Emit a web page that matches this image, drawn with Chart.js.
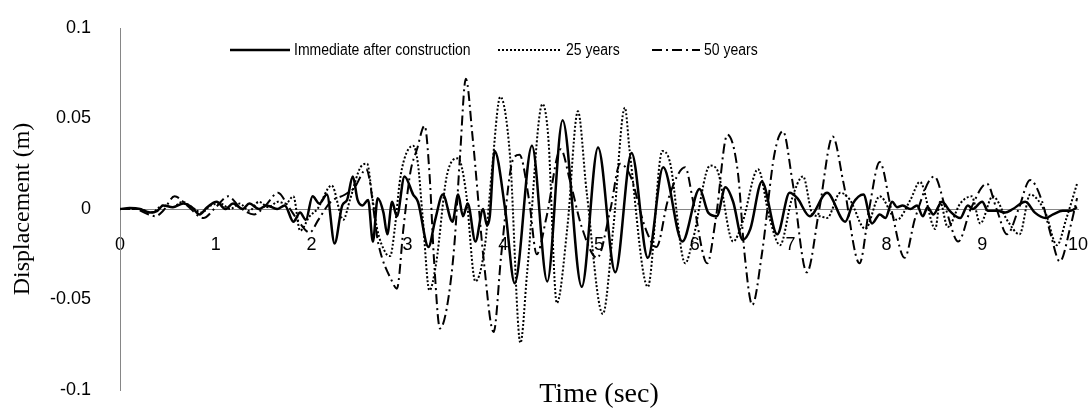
<!DOCTYPE html>
<html>
<head>
<meta charset="utf-8">
<script src="https://cdn.jsdelivr.net/npm/chart.js@4.4.1/dist/chart.umd.min.js"></script>
<style>
  html, body { margin: 0; padding: 0; background: #fff; }
  #wrap { width: 1088px; height: 413px; }
</style>
</head>
<body>
<div id="wrap"><canvas id="chart" width="1088" height="413"></canvas></div>
<script>
// time (sec) and displacement (m)
const timeImmediate = [0,0.1,0.21,0.31,0.39,0.45,0.55,0.66,0.75,0.83,0.91,1.01,1.1,1.18,1.28,1.35,1.45,1.53,1.64,1.72,1.81,1.88,1.94,2.01,2.08,2.16,2.24,2.32,2.37,2.43,2.48,2.53,2.59,2.64,2.69,2.75,2.79,2.84,2.89,2.97,3.06,3.11,3.22,3.29,3.37,3.47,3.53,3.58,3.63,3.71,3.79,3.83,3.86,3.91,4.02,4.12,4.30,4.46,4.62,4.82,4.99,5.17,5.34,5.51,5.67,5.87,6.05,6.14,6.23,6.32,6.40,6.50,6.58,6.70,6.86,6.99,7.07,7.20,7.38,7.57,7.65,7.76,7.85,7.93,7.99,8.06,8.11,8.17,8.25,8.32,8.38,8.43,8.49,8.58,8.66,8.77,8.85,8.90,9.00,9.06,9.16,9.24,9.32,9.45,9.55,9.66,9.74,9.84,9.92,9.99];
const dispImmediate = [0,0.0005,0,-0.002,-0.001,0.002,0.001,0.003,0.001,-0.003,0.001,0.004,0,0.003,0,0.003,0,0.002,0,0.002,-0.007,-0.002,-0.006,0.007,0.003,0.008,-0.019,0.002,0.005,0.018,0.005,0.002,0.005,-0.018,0.006,-0.002,-0.014,0.004,-0.004,0.018,0.008,0.004,-0.021,-0.006,0.008,-0.007,0.008,-0.004,0.003,-0.018,0,-0.009,-0.004,0.032,0,-0.041,0.035,-0.040,0.049,-0.043,0.034,-0.035,0.031,-0.027,0.023,-0.018,0.011,-0.002,-0.004,0.012,0.004,-0.017,-0.011,0.015,-0.014,0.009,0.006,-0.004,0.009,-0.007,0.003,0.008,-0.008,-0.003,-0.005,0.004,0.001,0.002,0,0.002,-0.004,0.001,-0.003,0.004,-0.001,-0.005,0.002,0,0.004,-0.001,-0.001,-0.002,0,0.004,-0.002,-0.005,-0.003,-0.001,-0.001,0.001];

const time25 = [0,0.2,0.33,0.45,0.55,0.65,0.75,0.85,0.95,1.05,1.15,1.25,1.35,1.45,1.55,1.65,1.73,1.81,1.88,1.98,2.06,2.21,2.33,2.40,2.51,2.58,2.63,2.68,2.77,2.82,2.87,2.92,2.97,3.06,3.11,3.16,3.23,3.30,3.41,3.53,3.61,3.71,3.81,3.88,3.97,4.07,4.18,4.25,4.41,4.47,4.56,4.67,4.78,4.87,5.04,5.15,5.27,5.32,5.51,5.66,5.74,5.90,5.98,6.16,6.23,6.40,6.50,6.66,6.78,6.89,7.01,7.13,7.23,7.31,7.38,7.52,7.62,7.78,7.93,8.11,8.25,8.35,8.51,8.56,8.64,8.77,8.89,8.98,9.11,9.27,9.39,9.50,9.66,9.78,9.88,9.99];
const disp25 = [0,0,-0.002,0.002,0.001,0.004,0.001,-0.002,0.002,0.003,0,0.003,-0.001,0.004,0.001,0.004,0.003,0.007,-0.012,-0.004,0,0.013,-0.006,0.005,0.023,0.025,0.008,-0.010,-0.024,-0.026,-0.010,0.015,0.028,0.035,0.025,-0.005,-0.045,-0.030,0.018,0.028,0.010,-0.040,-0.020,0.020,0.062,0.030,-0.074,-0.035,0.058,0.040,-0.052,-0.010,0.054,0.010,-0.058,-0.010,0.056,0.032,-0.043,0.032,0.026,-0.030,-0.017,0.024,0.022,-0.018,-0.007,0.022,-0.005,-0.020,0.005,0.018,-0.003,-0.004,-0.005,0.009,0.005,-0.011,0.007,-0.006,0.005,0.015,-0.011,0.004,-0.010,0.003,0.007,-0.008,0.007,-0.007,-0.014,0.008,-0.002,-0.020,-0.005,0.014];

const time50 = [0,0.15,0.3,0.37,0.45,0.57,0.7,0.87,1.0,1.13,1.25,1.40,1.52,1.65,1.75,1.88,1.98,2.07,2.2,2.35,2.45,2.57,2.7,2.84,2.89,2.96,3.03,3.1,3.18,3.23,3.28,3.34,3.41,3.49,3.55,3.61,3.68,3.8,3.90,3.98,4.1,4.17,4.27,4.35,4.45,4.6,4.7,4.82,4.98,5.12,5.22,5.33,5.48,5.6,5.72,5.9,5.98,6.13,6.22,6.34,6.45,6.52,6.6,6.7,6.83,6.92,7.02,7.17,7.30,7.44,7.55,7.72,7.82,7.93,8.05,8.19,8.30,8.5,8.62,8.75,8.88,9.05,9.15,9.26,9.38,9.50,9.62,9.72,9.81,9.92,9.99];
const disp50 = [0,0,-0.003,-0.004,-0.001,0.007,0.002,-0.005,0.001,0.007,0.001,-0.003,0.002,0.009,0.002,-0.008,-0.013,-0.006,0.004,0.008,0.012,0.022,-0.020,-0.040,-0.044,-0.010,0.020,0.033,0.046,0.020,-0.030,-0.066,-0.055,-0.020,0.030,0.072,0.040,-0.030,-0.068,-0.025,0.027,0.030,0.005,-0.025,-0.005,0.033,0.015,-0.010,-0.027,0.0,0.025,0.018,-0.010,-0.021,0.005,0.023,0.005,-0.030,-0.005,0.041,0.020,-0.025,-0.053,-0.025,0.030,0.043,0.015,-0.035,0.0,0.040,0.015,-0.030,0.0,0.026,0.0,-0.027,-0.005,0.018,0.0,-0.018,0.0,0.014,0.0,-0.014,0.0,0.016,0.005,-0.015,-0.029,-0.010,0.006];

const seriesNames = ["Immediate after construction", "25 years", "50 years"];
const xTitle = "Time (sec)";
const yTitle = "Displacement (m)";

const AXIS_GREY = "#868686";
const SANS = "'Liberation Sans', Arial, sans-serif";
const SERIF = "'Liberation Serif', 'Times New Roman', serif";

const dashes = [[], [2, 2], [10, 4, 2, 4]];
const widths = [2.5, 2, 2];

function toPoints(xs, ys) {
  return xs.map((x, i) => ({ x: x, y: ys[i] }));
}

// legend + x title, drawn on top of the chart
const extrasPlugin = {
  id: "extras",
  afterDraw(chart) {
    const ctx = chart.ctx;
    const area = chart.chartArea;
    ctx.save();

    ctx.fillStyle = "#000";
    ctx.font = `28px ${SERIF}`;
    ctx.textAlign = "center";
    ctx.textBaseline = "alphabetic";
    ctx.fillText(xTitle, (area.left + area.right) / 2, 402);

    const legendY = 50;
    const items = [
      { x1: 230, x2: 290 },
      { x1: 498, x2: 562 },
      { x1: 652, x2: 700 }
    ];
    const squeeze = 0.875; // narrow the text like the original's condensed face
    items.forEach((it, i) => {
      ctx.beginPath();
      ctx.setLineDash(dashes[i]);
      ctx.lineWidth = widths[i];
      ctx.strokeStyle = "#000";
      ctx.moveTo(it.x1, legendY);
      ctx.lineTo(it.x2, legendY);
      ctx.stroke();
      ctx.setLineDash([]);

      ctx.save();
      ctx.translate(it.x2 + 4, legendY + 1);
      ctx.scale(squeeze, 1);
      ctx.font = `16px ${SANS}`;
      ctx.textAlign = "left";
      ctx.textBaseline = "middle";
      ctx.fillText(seriesNames[i], 0, 0);
      ctx.restore();
    });
    ctx.restore();
  }
};

const ctx = document.getElementById("chart").getContext("2d");

new Chart(ctx, {
  type: "line",
  data: {
    datasets: [
      { label: seriesNames[0], data: toPoints(timeImmediate, dispImmediate) },
      { label: seriesNames[1], data: toPoints(time25, disp25) },
      { label: seriesNames[2], data: toPoints(time50, disp50) }
    ].map((ds, i) => Object.assign(ds, {
      borderColor: "#000",
      borderWidth: widths[i],
      borderDash: dashes[i],
      pointRadius: 0,
      fill: false,
      cubicInterpolationMode: "monotone"
    }))
  },
  options: {
    responsive: false,
    animation: false,
    layout: { padding: { left: 0, right: 10, top: 28, bottom: 23 } },
    plugins: {
      legend: { display: false },
      tooltip: { enabled: false }
    },
    scales: {
      x: {
        type: "linear",
        position: { y: 0 },
        min: 0,
        max: 10,
        ticks: { stepSize: 1, padding: 17, color: "#000", font: { family: SANS, size: 18 }, maxRotation: 0, autoSkip: false },
        grid: { display: false },
        border: { color: AXIS_GREY, width: 1 },
        afterFit: s => { s.paddingLeft = 0; s.paddingRight = 0; s.paddingTop = 0; s.paddingBottom = 0; }
      },
      y: {
        type: "linear",
        min: -0.1,
        max: 0.1,
        ticks: {
          stepSize: 0.05,
          padding: 21,
          color: "#000",
          font: { family: SANS, size: 18 },
          callback: v => String(Number(v.toFixed(2)))
        },
        grid: { display: false },
        border: { color: AXIS_GREY, width: 1 },
        title: {
          display: true,
          text: yTitle,
          color: "#000",
          font: { family: SERIF, size: 24 },
          padding: { top: 8, bottom: 0 }
        },
        afterFit: s => { s.width = 120; s.paddingTop = 0; s.paddingBottom = 0; s.paddingLeft = 0; s.paddingRight = 0; }
      }
    }
  },
  plugins: [extrasPlugin]
});
</script>
</body>
</html>
